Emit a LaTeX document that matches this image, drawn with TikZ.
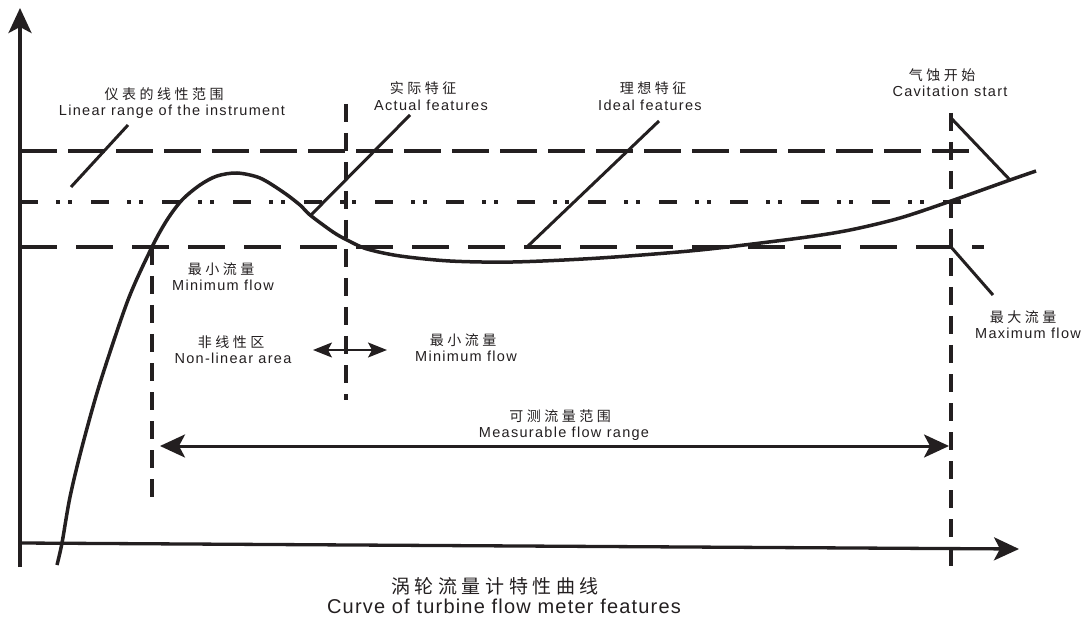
\documentclass[tikz,border=0pt]{standalone}
\usepackage{fontspec}
\setmainfont{Liberation Sans}[LetterSpace=9]
\newfontfamily\cjk{Noto Sans CJK SC}[LetterSpace=25]
\newfontfamily\titlefont{Liberation Sans}[LetterSpace=6]
\newfontfamily\cjktitle{Noto Sans CJK SC}[LetterSpace=24]
\usetikzlibrary{arrows.meta}
\definecolor{ink}{RGB}{35,31,32}
\begin{document}
\begin{tikzpicture}[x=1pt,y=-1pt,
  axisline/.style={draw=ink, line width=3.3pt, -{Stealth[length=25pt,width=23pt,inset=6pt]}},
  curveline/.style={draw=ink, line width=3.5pt, line join=round},
  dashA/.style={draw=ink, line width=3.5pt, dash pattern=on 37pt off 11pt},
  dashB/.style={draw=ink, line width=3.5pt, dash pattern=on 37pt off 19pt},
  dashdd/.style={draw=ink, line width=3.5pt, dash pattern=on 18pt off 18pt on 4pt off 8pt on 4pt off 19pt},
  vdash/.style={draw=ink, line width=3.5pt, dash pattern=on 18pt off 11pt},
  leader/.style={draw=ink, line width=3pt},
  rangearrow/.style={draw=ink, line width=3pt, {Stealth[length=25pt,width=23pt,inset=6pt]}-{Stealth[length=25pt,width=23pt,inset=6pt]}},
  smallarrow/.style={draw=ink, line width=1.3pt, {Stealth[length=19pt,width=15pt,inset=4pt]}-{Stealth[length=19pt,width=15pt,inset=4pt]}},
  cn/.style={text=ink, font=\cjk\fontsize{14}{16}\selectfont, inner sep=0pt, anchor=center},
  en/.style={text=ink, font=\fontsize{14.5}{17}\selectfont, inner sep=0pt, anchor=base},
]
\useasboundingbox (0,0) rectangle (1089,617);

% coordinates
\coordinate (yb) at (20,567);
\coordinate (yt) at (20,8);
\coordinate (xo) at (20,543);
\coordinate (xe) at (1019,549);

\coordinate (hAl) at (20,151);  \coordinate (hAr) at (970,151);
\coordinate (hMl) at (20,202);  \coordinate (hMr) at (975,202);
\coordinate (hBl) at (20,247);  \coordinate (hBr) at (984,247);

\coordinate (vLt) at (152,247); \coordinate (vLb) at (152,497);
\coordinate (vMt) at (346,104); \coordinate (vMb) at (346,400);
\coordinate (vRt) at (951,113); \coordinate (vRb) at (951,572);

% horizontal reference lines
\draw[dashA] (hAl) -- (hAr);
\draw[dashdd] (hMl) -- (hMr);
\draw[dashB] (hBl) -- (hBr);

% vertical reference lines
\draw[vdash] (vLt) -- (vLb);
\draw[vdash] (vMt) -- (vMb);
\draw[vdash] (vRt) -- (vRb);

% axes
\draw[axisline] (yb) -- (yt);
\draw[axisline] (xo) -- (xe);

% characteristic curve
\draw[curveline] plot[smooth, tension=0.5] coordinates {
 (57,565) (62,543) (70,497) (82,447) (100,383) (128,300) (152,247) (167,220)
 (182,200) (200,185) (217,176) (237,173) (260,178) (283,192) (300,205)
 (310,215) (333,232) (347,240) (367,249) (400,256) (450,261) (513,262)
 (600,258) (700,250) (800,238) (850,230) (900,218) (951,201) (1010,180) (1036,171)};

% leader lines
\coordinate (lin1) at (71,187);   \coordinate (lin2) at (128,125);
\coordinate (act1) at (310,216);  \coordinate (act2) at (410,115);
\coordinate (ide1) at (528,246);  \coordinate (ide2) at (659,121);
\coordinate (cav1) at (951,118);  \coordinate (cav2) at (1010,180);
\coordinate (max1) at (951,247);  \coordinate (max2) at (993,295);
\draw[leader] (lin1) -- (lin2);
\draw[leader] (act1) -- (act2);
\draw[leader] (ide1) -- (ide2);
\draw[leader] (cav1) -- (cav2);
\draw[leader] (max1) -- (max2);

% arrows
\coordinate (mL) at (160,446); \coordinate (mR) at (949,446);
\draw[rangearrow] (mL) -- (mR);
\coordinate (sL) at (313,350); \coordinate (sR) at (387,350);
\draw[smallarrow] (sL) -- (sR);

% labels
\node[cn] (t1c) at (164,94) {仪表的线性范围};
\node[en] (t1e) at (172,116) {Linear range of the instrument};
\node[cn] (t2c) at (423,88) {实际特征};
\node[en] (t2e) at (431,111) {Actual features};
\node[cn] (t3c) at (653,88) {理想特征};
\node[en] (t3e) at (650,111) {Ideal features};
\node[cn] (t4c) at (942,75) {气蚀开始};
\node[en] (t4e) at (950,97) {Cavitation start};
\node[cn] (t5c) at (221,269) {最小流量};
\node[en] (t5e) at (223,291) {Minimum flow};
\node[cn] (t6c) at (231,342) {非线性区};
\node[en] (t6e) at (233,363) {Non-linear area};
\node[cn] (t7c) at (463,340) {最小流量};
\node[en] (t7e) at (466,362) {Minimum flow};
\node[cn] (t8c) at (1023,317) {最大流量};
\node[en] (t8e) at (1028,339) {Maximum flow};
\node[cn] (t9c) at (560,416) {可测流量范围};
\node[en] (t9e) at (564,437) {Measurable flow range};
\node[text=ink, font=\cjktitle\fontsize{19}{22}\selectfont, inner sep=0pt, anchor=center] (ttc) at (495,586) {涡轮流量计特性曲线};
\node[text=ink, font=\titlefont\fontsize{20}{23}\selectfont, inner sep=0pt, anchor=base] (tte) at (504,613) {Curve of turbine flow meter features};
\end{tikzpicture}
\end{document}
